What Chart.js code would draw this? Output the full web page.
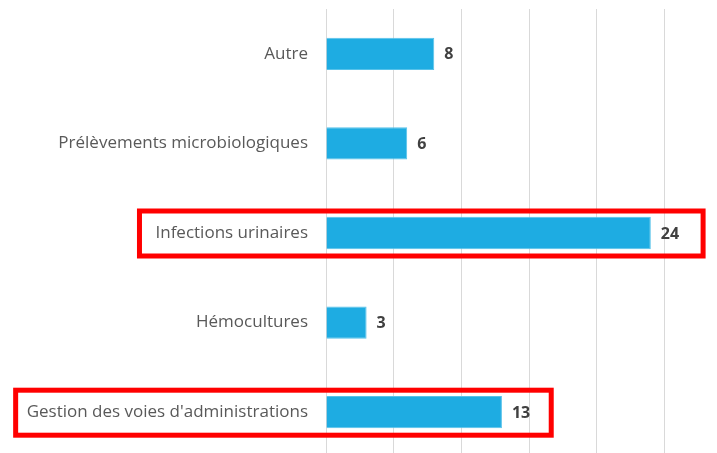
<!DOCTYPE html>
<html>
<head>
<meta charset="utf-8">
<script src="https://cdn.jsdelivr.net/npm/chart.js@4"></script>
<style>
  html, body { margin: 0; padding: 0; background: #fff; overflow: hidden; }
  #wrap { position: relative; width: 760px; height: 457px; }
</style>
</head>
<body>
<div id="wrap"><canvas id="chart"></canvas></div>
<script>
// data
const categories = ['Autre', 'Prélèvements microbiologiques', 'Infections urinaires', 'Hémocultures', "Gestion des voies d'administrations"];
const counts = [8, 6, 24, 3, 13];
const highlighted = ['Infections urinaires', "Gestion des voies d'administrations"];
const xMin = 0;
const xMax = 30;
const xStep = 5;

// hand drawn frames are not quite even, so each one keeps its own margins
const frameStyle = {
    'Infections urinaires': { padLeft: 16, padRight: 24 },
    "Gestion des voies d'administrations": { padLeft: 11, padRight: 21 }
};

const labelFont = '17px "Open Sans"';
const valueFont = 'bold 16px "Open Sans"';
const labelPadding = 18;
const valueGap = 10;

// numbers written just after the end of each bar
const valueLabels = {
    id: 'valueLabels',
    afterDatasetsDraw(chart) {
        const ctx = chart.ctx;
        const meta = chart.getDatasetMeta(0);
        ctx.save();
        ctx.font = valueFont;
        ctx.fillStyle = '#404040';
        ctx.textBaseline = 'middle';
        meta.data.forEach((bar, i) => {
            ctx.fillText(String(counts[i]), bar.x + valueGap, bar.y + 1);
        });
        ctx.restore();
    }
};

// red frames round the highlighted rows
const highlightBoxes = {
    id: 'highlightBoxes',
    afterDraw(chart) {
        const ctx = chart.ctx;
        const meta = chart.getDatasetMeta(0);
        ctx.save();
        ctx.strokeStyle = '#ff0000';
        ctx.lineWidth = 5;
        highlighted.forEach(name => {
            const i = categories.indexOf(name);
            const bar = meta.data[i];
            const st = frameStyle[name];
            ctx.font = labelFont;
            const labelW = ctx.measureText(name).width;
            ctx.font = valueFont;
            const valueW = ctx.measureText(String(counts[i])).width;
            const left = chart.chartArea.left - labelPadding - labelW - st.padLeft;
            const right = bar.x + valueGap + valueW + st.padRight;
            ctx.strokeRect(left, bar.y - 22, right - left, 45);
        });
        ctx.restore();
    }
};

new Chart(document.getElementById('chart'), {
    type: 'bar',
    data: {
        labels: categories,
        datasets: [{
            data: counts,
            backgroundColor: '#1eace2',
            borderColor: '#56c2ea',
            borderWidth: 1,
            categoryPercentage: 1,
            barPercentage: 0.36
        }]
    },
    options: {
        indexAxis: 'y',
        responsive: true,
        maintainAspectRatio: false,
        animation: false,
        layout: { padding: { top: 9, right: 28, bottom: 0, left: 0 } },
        plugins: {
            legend: { display: false },
            tooltip: { enabled: false }
        },
        scales: {
            x: {
                min: xMin,
                max: xMax,
                afterFit: axis => { axis.height = 0; },
                ticks: { display: false, stepSize: xStep },
                grid: { color: '#d9d9d9', lineWidth: 1, drawTicks: false },
                border: { display: false }
            },
            y: {
                afterFit: axis => {
                    axis.width = 326;
                    // the tick padding would otherwise push the plot down from the top and up from the bottom
                    axis.paddingTop = 0;
                    axis.paddingBottom = 0;
                },
                ticks: {
                    color: '#595959',
                    font: { family: 'Open Sans', size: 17 },
                    padding: labelPadding
                },
                grid: { display: false, drawTicks: false },
                border: { display: false }
            }
        }
    },
    plugins: [valueLabels, highlightBoxes]
});
</script>
</body>
</html>
